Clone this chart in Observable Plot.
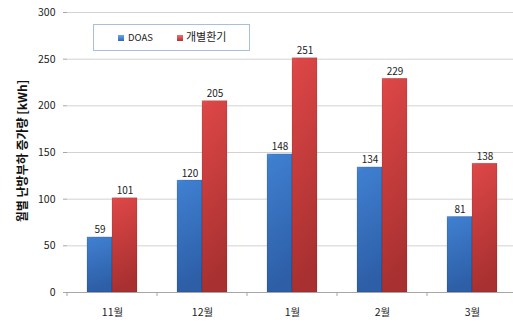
<!DOCTYPE html>
<html>
<head>
<meta charset="utf-8">
<script src="https://cdn.jsdelivr.net/npm/d3@7"></script>
<script src="https://cdn.jsdelivr.net/npm/@observablehq/plot@0.6"></script>
<style>
  html, body { margin: 0; padding: 0; background: #fff; overflow: hidden; }
  #wrap { position: relative; width: 513px; height: 322px; font-family: "Noto Sans CJK KR", "Noto Sans", sans-serif; }
  #legend { position: absolute; left: 93px; top: 24px; width: 157px; height: 27px; border: 1px solid #a9bedc; background: #fff; box-sizing: border-box; }
  #legend .sw { position: absolute; width: 6px; height: 6px; top: 10px; }
  #legend .lb { position: absolute; top: 5px; line-height: 14px; color: #222; }
  #ytitle { position: absolute; left: 21px; top: 151px; transform: translate(-50%, -50%) rotate(-90deg); white-space: nowrap; font-weight: bold; font-size: 12px; color: #111; }
</style>
</head>
<body>
<div id="wrap">
  <div id="chart"></div>
  <div id="legend">
    <span class="sw" style="left:24px;background:linear-gradient(#6aa6ea,#2f66b3);"></span>
    <span class="lb" style="left:34px;font-size:9.5px;">DOAS</span>
    <span class="sw" style="left:83px;background:linear-gradient(#f07070,#b53030);"></span>
    <span class="lb" style="left:92px;font-size:11px;top:4px;">개별환기</span>
  </div>
  <div id="ytitle">월별 난방부하 증가량 [kWh]</div>
</div>
<script>
const months = ["11월", "12월", "1월", "2월", "3월"];
const series = ["DOAS", "개별환기"];
const doas = [59, 120, 148, 134, 81];
const individual = [101, 205, 251, 229, 138];
const yTicks = [0, 50, 100, 150, 200, 250, 300];

const data = months.flatMap((m, i) => [
  {month: m, series: series[0], value: doas[i]},
  {month: m, series: series[1], value: individual[i]}
]);

const plot = Plot.plot({
  width: 513,
  height: 322,
  marginLeft: 65,
  marginRight: -5,
  marginTop: 12,
  marginBottom: 30,
  style: {fontFamily: '"Noto Sans CJK KR", "Noto Sans", sans-serif', fontSize: "10px", color: "#222", background: "transparent"},
  fx: {domain: months, padding: 0, label: null},
  x: {domain: series, paddingInner: 0, paddingOuter: 0.75, axis: null},
  y: {domain: [0, 300], label: null},
  color: {domain: series, range: ["url(#gBlue)", "url(#gRed)"]},
  marks: [
    Plot.ruleY(yTicks.filter(d => d > 0), {stroke: "#d2d2d2", strokeWidth: 1}),
    Plot.barY(data, {fx: "month", x: "series", y: "value", fill: "series", stroke: "#00000033", strokeWidth: 0.6}),
    Plot.text(data, {fx: "month", x: "series", y: "value", text: "value", lineAnchor: "bottom", dy: -4, fontSize: 10, fill: "#222"}),
    Plot.ruleY([0], {stroke: "#a6a6a6"}),
    Plot.axisY({ticks: yTicks, tickSize: 4, tickPadding: 8, stroke: "#a6a6a6", line: true, label: null, fontSize: 10.5}),
    Plot.axisFx({anchor: "bottom", tickSize: 0, tickPadding: 16, label: null, fontSize: 10.5})
  ]
});

const svg = d3.select(plot);
const defs = svg.insert("defs", ":first-child");
function grad(id, stops, x2, y2) {
  const g = defs.append("linearGradient").attr("id", id)
    .attr("x1", 0).attr("y1", 0).attr("x2", x2).attr("y2", y2);
  stops.forEach(([o, c]) => g.append("stop").attr("offset", o).attr("stop-color", c));
}
grad("gBlue", [[0, "#6fa8ea"], [0.012, "#4a8ad8"], [0.05, "#3f7fd0"], [1, "#2d5ea6"]], 0.15, 1);
grad("gRed", [[0, "#f27a7a"], [0.012, "#e04c4c"], [0.05, "#dc4646"], [1, "#a83030"]], 0.15, 1);

// boundary ticks on the category axis, taken from the fx scale
const fx = plot.scale("fx");
const y = plot.scale("y");
const y0 = y.apply(0);
months.forEach(m => {
  const xb = fx.apply(m);
  svg.append("line").attr("x1", xb).attr("x2", xb).attr("y1", y0).attr("y2", y0 + 4)
    .attr("stroke", "#a6a6a6");
});

document.getElementById("chart").appendChild(plot);
</script>
</body>
</html>
